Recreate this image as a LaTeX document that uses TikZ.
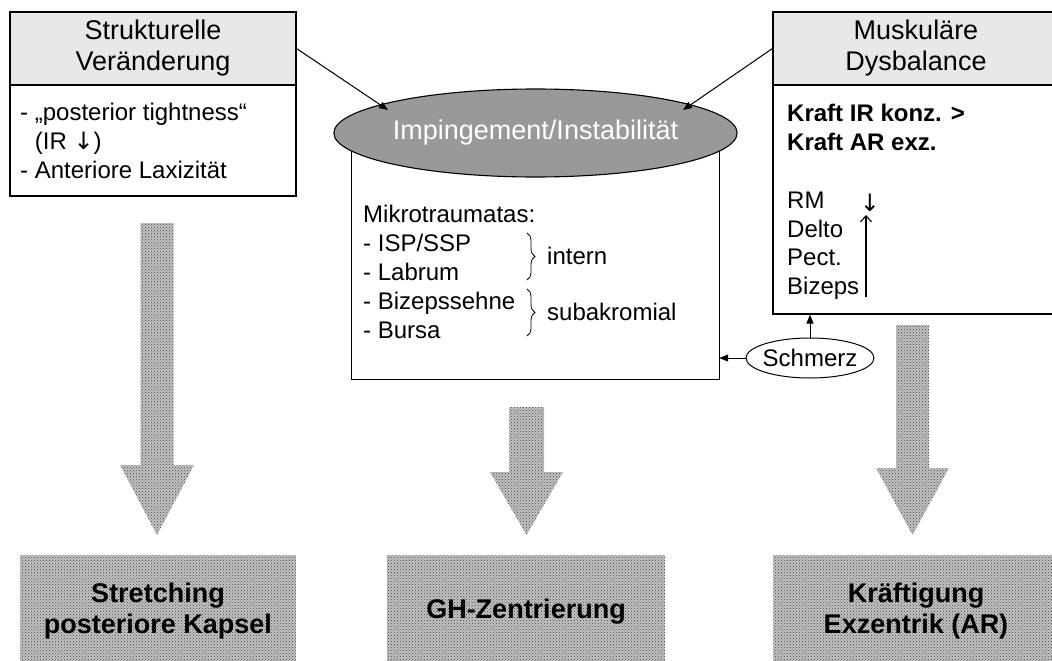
\documentclass[tikz,border=0pt]{standalone}
\usepackage{fontspec}
\setmainfont{Liberation Sans}
\newfontfamily\djv{DejaVu Sans}
\usetikzlibrary{arrows.meta,shapes.geometric,patterns,decorations.pathreplacing}
\begin{document}
\begin{tikzpicture}[x=1pt,y=-1pt,
  tt/.style={font=\fontsize{27}{31}\selectfont},
  bt/.style={font=\fontsize{24}{28.8}\selectfont},
  box/.style={draw, line width=1.1pt, inner sep=0pt},
  headbox/.style={box, fill=black!9, minimum height=73pt, minimum width=286pt, align=center, tt},
  arr/.style={-{Triangle[length=9pt,width=7pt]}, line width=1pt},
  patfill/.style={preaction={fill=black!24}, pattern=crosshatch dots, pattern color=black!72},
  bottombox/.style={patfill, inner sep=0pt, minimum height=113pt, align=center, font=\fontsize{27}{31}\selectfont\bfseries},
  bigarrow/.style={patfill}
]
\useasboundingbox (0,0) rectangle (1052,661);
\clip (0,0) rectangle (1052,661);

% left box
\node[headbox] (lhead) at (153,48.5) {Strukturelle\\Veränderung};
\node[box, minimum width=286pt, minimum height=111pt] (lbody) at (153,140.5) {};
\node[bt, align=left, anchor=west, inner sep=0pt] (ltext) at (20,141) {- „posterior tightness“\\\phantom{- }(IR {\djv ↓})\\- Anteriore Laxizität};

% right box
\node[headbox] (rhead) at (916,48.5) {Muskuläre\\Dysbalance};
\node[box, minimum width=286pt, minimum height=229pt] (rbody) at (916,199.5) {};
\node[bt, align=left, anchor=west, inner sep=0pt] (rtext) at (787,202)
  {\textbf{Kraft IR konz. >}\\\textbf{Kraft AR exz.}\\[0pt]\strut\\RM\\Delto\\Pect.\\Bizeps};
\node[bt, inner sep=0pt] (rmarrow) at (870,203) {\djv ↓};
\coordinate (upA) at (866,297);
\coordinate (upB) at (866,215);
\draw[line width=1.1pt, -{Straight Barb[length=6pt,width=11pt]}] (upA) -- (upB);

% cylinder
\node[minimum width=367pt, minimum height=246pt, inner sep=0pt] (cyl) at (535.5,256) {};
\draw[line width=1.1pt] (cyl.north west) -- (cyl.south west) -- (cyl.south east) -- (cyl.north east);
\node[ellipse, draw, line width=1.1pt, fill=black!40, minimum width=367pt, minimum height=88pt, inner sep=0pt,
  text=white, tt] (ctop) at (535.5,133) {Impingement/Instabilität};
\node[bt, align=left, anchor=west, inner sep=0pt] (ctext) at (363,272)
  {Mikrotraumatas:\\- ISP/SSP\\- Labrum\\- Bizepssehne\\- Bursa};
\coordinate (b1a) at (527,233);
\coordinate (b1b) at (527,280);
\coordinate (b2a) at (527,289);
\coordinate (b2b) at (527,336);
\draw[line width=0.8pt, decorate, decoration={brace, amplitude=8pt}] (b1a) -- (b1b);
\draw[line width=0.8pt, decorate, decoration={brace, amplitude=8pt}] (b2a) -- (b2b);
\node[bt, anchor=west, inner sep=0pt] (intern) at (547,256) {intern};
\node[bt, anchor=west, inner sep=0pt] (subak) at (547,312) {subakromial};

% top connectors
\coordinate (t1) at (388,110);
\coordinate (t2) at (683,110);
\draw[arr] (lhead.east) -- (t1);
\draw[arr] (rhead.west) -- (t2);

% Schmerz
\node[ellipse, draw, line width=1pt, minimum width=128pt, minimum height=40pt, inner sep=0pt, bt] (schmerz) at (810,358) {\makebox[50pt]{Schmerz}};
\draw[arr] (schmerz.west) -- (schmerz.west -| cyl.east);
\draw[arr] (schmerz.north) -- (schmerz.north |- rbody.south);

% big arrows
\path[bigarrow] (140.5,223) -- (173.5,223) -- (173.5,465) -- (194,465) -- (157,535) -- (120,465) -- (140.5,465) -- cycle;
\path[bigarrow] (509,407) -- (544,407) -- (544,472) -- (563,472) -- (526.5,535) -- (490,472) -- (509,472) -- cycle;
\path[bigarrow] (896,325) -- (929,325) -- (929,468) -- (949,468) -- (912.5,535) -- (876,468) -- (896,468) -- cycle;

% bottom boxes
\node[bottombox, minimum width=276pt] (s1) at (158,611.5) {Stretching\\posteriore Kapsel};
\node[bottombox, minimum width=278pt] (s2) at (526,611.5) {GH-Zentrierung};
\node[bottombox, minimum width=286pt] (s3) at (916,611.5) {Kräftigung\\Exzentrik (AR)};
\end{tikzpicture}
\end{document}
